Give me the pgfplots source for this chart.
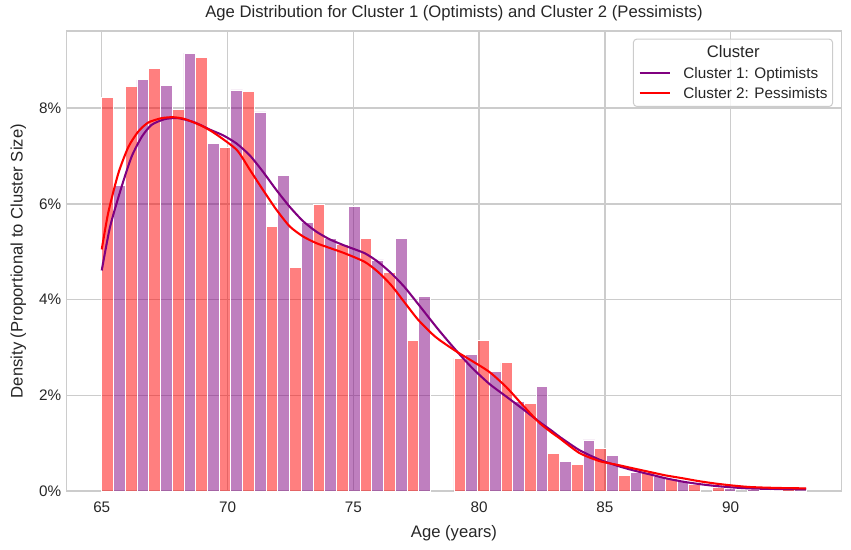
\documentclass[border=0pt]{standalone}
\usepackage{pgfplots}
\pgfplotsset{compat=1.18}
\usepackage{pgfplotstable}
\usepackage{fontspec}
\setmainfont{Liberation Sans}

\definecolor{barred}{HTML}{FF0000}
\definecolor{barpurple}{HTML}{800080}
\definecolor{gridgray}{HTML}{CCCCCC}
\definecolor{textgray}{HTML}{262626}

% bin centres (30 bins of 28/30 yr, dodged), density in %
\pgfplotstableread{
x y
65.2333 8.23
66.1667 8.46
67.1000 8.82
68.0333 7.98
68.9667 9.05
69.9000 7.17
70.8333 8.34
71.7667 5.52
72.7000 4.68
73.6333 5.98
74.5667 5.16
75.5000 5.27
76.4333 4.56
77.3667 3.14
79.2333 2.78
80.1667 3.14
81.1000 2.68
82.0333 1.84
82.9667 0.78
83.9000 0.55
84.8333 0.90
85.7667 0.33
86.7000 0.39
87.6333 0.26
88.5667 0.15
89.5000 0.08
91.3667 0.02
92.3000 0.03
}\pessbars

\pgfplotstableread{
x y
65.7000 6.38
66.6333 8.59
67.5667 8.48
68.5000 9.15
69.4333 7.27
70.3667 8.38
71.3000 7.92
72.2333 6.60
73.1667 5.61
74.1000 5.27
75.0333 5.94
75.9667 4.83
76.9000 5.27
77.8333 4.06
79.7000 2.85
80.6333 2.51
81.5667 1.87
82.5000 2.18
83.4333 0.63
84.3667 1.07
85.3000 0.74
86.2333 0.40
87.1667 0.32
88.1000 0.20
89.9667 0.05
90.9000 0.03
91.8333 0.02
92.7667 0.03
}\optbars

% kde curves
\pgfplotstableread{
x y
65.00 4.61
65.33 5.52
65.79 6.36
66.19 6.99
66.59 7.40
66.98 7.65
67.51 7.77
68.04 7.79
68.70 7.70
69.30 7.55
69.83 7.43
70.36 7.26
70.89 7.01
71.41 6.67
71.94 6.29
72.47 5.94
73.00 5.64
73.53 5.42
74.06 5.26
74.65 5.13
75.45 4.97
75.98 4.79
76.51 4.55
77.04 4.26
77.56 3.92
78.10 3.56
78.42 3.35
78.82 3.10
79.22 2.86
79.75 2.56
80.41 2.24
81.07 1.98
81.73 1.72
82.39 1.45
82.92 1.25
83.19 1.14
83.98 0.86
84.78 0.66
85.50 0.53
86.10 0.44
86.80 0.35
87.42 0.27
88.10 0.20
88.74 0.15
89.40 0.11
90.06 0.08
90.70 0.06
91.39 0.05
92.20 0.045
93.00 0.05
}\optkde

\pgfplotstableread{
x y
65.00 5.05
65.26 5.82
65.66 6.64
66.06 7.19
66.45 7.51
66.85 7.70
67.38 7.79
67.84 7.81
68.31 7.77
68.97 7.63
69.50 7.47
70.36 7.13
70.89 6.71
71.41 6.29
71.94 5.88
72.47 5.53
73.00 5.32
73.53 5.18
74.06 5.08
74.65 4.97
75.45 4.79
75.98 4.58
76.51 4.30
77.04 3.94
77.56 3.59
78.10 3.30
78.42 3.16
79.09 2.92
79.75 2.71
80.41 2.49
81.07 2.18
81.73 1.80
82.39 1.43
82.92 1.21
83.19 1.11
83.98 0.80
84.78 0.63
85.50 0.55
86.10 0.48
86.80 0.40
87.42 0.33
88.10 0.27
88.74 0.21
89.40 0.16
90.06 0.12
90.70 0.09
91.39 0.075
92.20 0.065
93.00 0.06
}\pesskde

\begin{document}
\begin{tikzpicture}
\begin{axis}[
    scale only axis,
    width=581.2pt, height=345.2pt,
    xmin=63.6, xmax=94.4,
    ymin=0, ymax=9.61,
    axis line style={draw=gridgray, line width=1.3pt},
    grid=major,
    major grid style={draw=gridgray, line width=1pt},
    major tick length=0pt,
    xtick={65,70,75,80,85,90},
    xticklabels={65,70,75,80,85,90},
    ytick={0,2,4,6,8},
    yticklabels={0\%,2\%,4\%,6\%,8\%},
    ticklabel style={font=\fontsize{11.46}{13}\selectfont, text=textgray},
    xticklabel style={anchor=base, inner sep=0pt, yshift=-16.3pt},
    yticklabel style={anchor=east, inner sep=0pt, xshift=-3.7pt},
    xlabel={Age (years)},
    ylabel={Density (Proportional to Cluster Size)},
    label style={font=\fontsize{12.5}{15}\selectfont, text=textgray},
    xlabel style={at={(axis description cs:0.5,0)}, anchor=base, inner sep=0pt, yshift=-35pt},
    ylabel style={at={(axis description cs:-0.052,0.5)}, anchor=south, inner sep=0pt},
    title={Age Distribution for Cluster 1 (Optimists) and Cluster 2 (Pessimists)},
    title style={font=\fontsize{12.5}{15}\selectfont, text=textgray, at={(axis description cs:0.5,1)}, anchor=base, inner sep=0pt, yshift=3.75pt},
    legend cell align=left,
    legend image code/.code={\draw[#1, line width=1.55pt] (0pt,0pt) -- (23pt,0pt);},
    legend style={at={(axis description cs:1,1)}, anchor=north east,
        xshift=-6.3pt, yshift=-5.7pt,
        draw=gridgray, line width=0.75pt, fill=white, fill opacity=0.8, text opacity=1,
        rounded corners=2.5pt, inner xsep=3.75pt, inner ysep=4.3pt,
        row sep=4.45pt, column sep=9.2pt,
        nodes={inner sep=0pt, text height=9.6pt, text depth=1.4pt},
        font=\fontsize{11.46}{13}\selectfont, text=textgray},
]

\addplot[ybar, bar width=0.46667, bar shift=0pt, fill=barred, fill opacity=0.5,
    draw=white, line width=0.6pt, forget plot] table {\pessbars};
\addplot[ybar, bar width=0.46667, bar shift=0pt, fill=barpurple, fill opacity=0.5,
    draw=white, line width=0.6pt, forget plot] table {\optbars};

\addlegendimage{empty legend}
\addlegendentry{\hspace{17.5pt}\fontsize{12.5}{15}\selectfont Cluster}

\addplot[barpurple, line width=1.55pt, smooth, tension=0.4] table {\optkde};
\addlegendentry{Cluster 1: Optimists}
\addplot[barred, line width=1.55pt, smooth, tension=0.4] table {\pesskde};
\addlegendentry{Cluster 2: Pessimists}

\end{axis}
\pgfresetboundingbox
\path ([shift={(-49.9pt,-44pt)}]current axis.south west) rectangle ([shift={(7.2pt,23.25pt)}]current axis.north east);
\end{tikzpicture}
\end{document}
